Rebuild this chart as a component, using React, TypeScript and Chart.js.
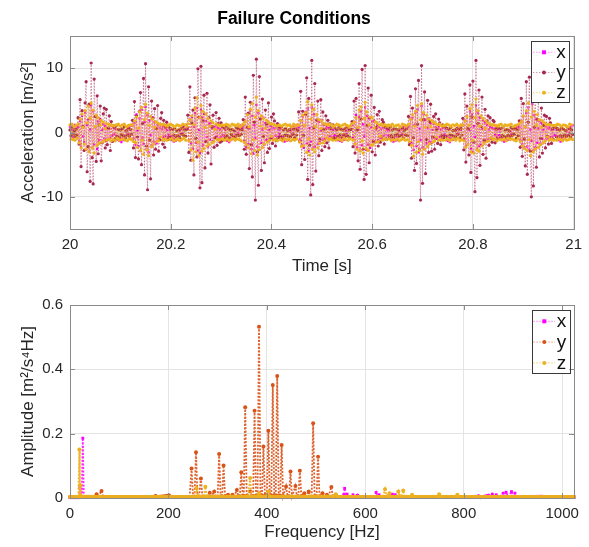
import React, { useEffect, useRef } from "react";
import { Chart, registerables } from "chart.js";

Chart.register(...registerables);

const FONT = '"Liberation Sans", Arial, Helvetica, sans-serif';
const TEXT = "#262626";
Chart.defaults.font.family = FONT;
Chart.defaults.color = TEXT;

// ---------- Time-domain data (acceleration, m/s^2), sampled from t = 20 s ----------
const START_TIME = 20;
const SAMPLE_RATE = 500;

const accX = [
  0.9, -0.6, 1.1, -0.8, 0.5, 1.2, -0.4, 0.7,
  0.9, -1.4, 1.8, -2.2, 2.6, -0.6, -1.5, 3.1, -2.7, 1.2, 2.0, -3.0, 0.5, 4.2, -2.4, 3.3, -1.9, 0.8, 2.5, -2.6, 1.7, -1.2, 2.1, -1.6, 0.4, 1.3, -0.9, 1.0, -1.3, 0.7, -1.1, 0.6, -0.8, 1.1, -0.5, 0.8,
  -0.3, 0.6, -0.5, -1.1, -0.7, -1.3, -0.9, -1.5, -0.6, -1.2, -0.8, 0.2, -0.4, 0.8, -0.2, 0.9, 0.4, 1.1,
  1.1, -0.9, 1.5, -1.9, 2.8, 0.3, -2.1, 2.2, -2.9, 3.5, -0.8, -1.8, 1.6, 4.0, -2.6, 2.7, -3.1, 1.9, -0.4, -2.0, 2.4, -1.4, 1.6, 0.6, -1.7, 1.2, -1.0, 0.8, -1.2, 0.5, 0.9, -0.7, 1.0, -0.6, 0.4, -0.9,
  -0.4, 0.5, -0.6, -1.2, -0.8, -1.4, -1.0, -1.3, -0.5, -1.1, -0.7, 0.3, -0.3, 0.7, -0.2, 1.0, 0.5, 1.2, 0.6,
  0.7, -1.2, 2.0, -1.7, 2.4, -2.5, 0.9, 3.0, -1.6, 3.8, -2.8, 0.4, -3.2, 3.6, 2.3, -2.0, 2.9, -1.5, 1.8, -0.7, -2.2, 1.4, -1.1, 1.5, 0.6, -1.3, 0.9, -0.8, 1.1, -0.6, 0.7, -1.0, 0.5, -0.7, 0.9, -0.4,
  -0.5, 0.4, -0.7, -1.3, -0.9, -1.5, -0.8, -1.2, -0.4, -1.0, -0.6, 0.2, -0.4, 0.6, -0.1, 0.9, 0.4, 1.1, 0.7,
  1.0, -1.3, 1.7, -2.3, 2.9, -1.8, 0.6, 3.4, -2.6, 2.6, -3.3, 1.1, -0.9, 4.3, -2.2, 3.0, -2.7, 2.1, -1.6, 0.5, 2.3, -1.9, 1.5, -1.2, 1.3, -1.4, 0.4, 1.0, -0.7, 0.8, -1.0, 0.6, -0.5, 0.9, -0.8, 0.5,
  -0.3, 0.6, -0.6, -1.2, -0.7, -1.4, -1.0, -1.3, -0.5, -1.2, -0.6, 0.3, -0.3, 0.8, -0.2, 1.0, 0.5, 1.2, 0.6,
  0.8, -1.1, 1.9, -2.0, 2.5, -2.4, 1.0, 3.2, -1.7, 3.7, -2.9, 0.7, -1.4, 3.9, -2.5, 2.8, -2.2, 0.9, 2.0, -1.8, 1.6, -1.5, 0.3, 1.9, -1.1, 1.2, -1.0, 0.6, 0.9, -0.9, 0.7, -0.6, 1.0, -0.8, 0.4, -0.6,
  -0.4, 0.5, -0.6, -1.2, -0.8, -1.3, -0.9, -1.4, -0.5, -1.1, -0.7, 0.3, -0.2, 0.7, 0.9, 0.4, 1.1,
  1.2, -0.8, 1.6, -1.8, 2.7, -2.3, 0.5, 2.4, -2.8, 3.3, -2.0, 1.3, -0.6, 3.9, -2.7, 2.6, -1.9, 2.2, -2.4, 0.8, 1.7, -1.3, 1.8, -1.5, 0.5, 1.1, -1.2, 1.0, -0.8, 0.6, -0.9, 0.8, -0.5, 0.7, -1.0, 0.4,
  -0.5, 0.4, -0.7, -1.1, -0.9, -1.4, -1.0, -1.3, -0.6, -1.2, -0.7, 0.2, -0.4, 0.6, -0.2, 0.9, 0.5, 1.1, 0.6, 1.0,
  0.9, -1.5, 2.1, -1.6, 2.3, -2.7, 1.2, 3.1, -2.1, 3.6, -3.1, 0.6, -1.2, 4.1, -2.3, 2.9, -2.6, 2.0, -1.7, 0.7, 2.2, -1.4, 1.4, -1.6, 0.4, 1.3, -0.9, 0.8, -1.0, 0.6, 0.9, -0.7, 0.5, -0.9, 0.7, -0.5,
  -0.3, 0.6, -0.6, -1.3, -0.8, -1.5, -0.9, -1.2, -0.5, -1.1, -0.7, 0.3, -0.3, 0.8, -0.2, 1.0, 0.4, 1.2,
  1.1, -1.0, 1.8, -2.1, 2.6, -1.9, 0.4, 3.3, -2.5, 2.8, -3.0, 1.0, -0.7, 4.2, -2.6, 3.1, -2.1, 2.3, -1.9, 0.6, 1.9, -1.6, 1.6, -1.3, 1.2, -1.1, 0.5, 0.9, -0.8, 0.7, -1.0, 0.6, -0.4, 0.8, -0.7, 0.5,
  -0.4, 0.5, -0.7, -1.2, -0.8, -1.4, -1.0, -1.3, -0.6, -1.1, -0.6, 0.2, -0.3, 0.7, -0.2, 0.9, 0.5, 1.1, 0.7, 1.0,
  0.8, -1.2, 1.7, -1.9, 2.5, -2.4, 0.9, 3.0, -2.2, 3.9, -2.7, 0.5, -1.3, 4.4, -2.8, 2.7, -2.3, 2.1, -1.6, 0.6, 1.8, -1.7, 1.5, -1.0, 0.4, 1.4, -1.2, 0.9, -0.9, 0.6, 0.8, -0.7, 0.5, -0.8, 0.6, -0.4,
  -0.5, 0.4, -0.6, -1.2, -0.9, -1.4, -0.8, -1.3, -0.5, -1.0, -0.7, 0.3, -0.4, 0.6, -0.1, 0.9, 0.4, 1.1,
];

const accY = [
  0.4, -0.5, 0.7, -0.3, 0.2, -0.6, 0.5, -0.4,
  2.3, -1.8, 5.1, -5.3, 3.4, 0.9, -2.8, 4.6, 7.9, -6.1, -2.2, 4.4, -7.6, 10.8, -3.9, -8.0, 8.3, 2.5, -4.5, 5.7, -3.3, 1.2, 4.1, -4.4, -1.6, 2.9, 3.8, -2.4, 3.6, -1.9, 0.7, 2.6, -2.8, 1.7, -1.4, 1.1,
  0.8, -0.9, 1.1, -0.6, 0.5, -0.7, 0.4, -0.3, 0.6, -0.5, 0.9, -0.8, 0.3, -0.4, 0.7, -0.6, 0.5, -0.3,
  1.9, -2.4, 4.8, -3.9, 2.6, -0.7, -4.1, 3.3, 6.2, -5.0, 1.4, 8.4, -6.6, 10.7, -2.1, -8.9, 7.1, -1.2, -7.2, 4.9, 2.2, -3.5, 3.7, -2.6, 0.6, 4.2, -2.9, -1.1, 2.2, 3.1, -1.8, 1.9, -2.3, 0.8, 1.6, -1.1,
  0.9, -0.7, 0.6, -1.0, 0.5, -0.4, 0.7, -0.6, 0.3, -0.5, 0.4, -0.8, 0.6, -0.3, 0.8, -0.5, 0.4, -0.6, 0.5,
  2.7, -3.1, 7.1, -4.3, 1.5, 3.5, -6.6, 5.4, -0.9, -3.8, 9.9, 2.4, -8.6, 10.3, -7.8, 1.8, 5.8, -5.5, -1.4, 6.1, -3.2, 2.3, 4.3, -4.9, 0.9, 2.7, -2.3, -0.8, 3.1, -2.0, 1.4, 2.2, -1.5, 1.5, -1.3, 0.9,
  0.7, -0.8, 1.0, -0.5, 0.6, -0.9, 0.4, -0.3, 0.5, -0.6, 0.3, -0.7, 0.8, -0.4, 0.6, -0.5, 0.7, -0.3, 0.4,
  2.0, -2.6, 5.5, -3.4, 0.8, 3.0, -5.6, 4.7, -1.9, -6.9, 8.9, 1.6, -10.5, 11.4, -3.0, -8.2, 8.7, 2.1, -5.9, 5.2, -0.6, -4.7, 3.5, 1.3, -3.1, 4.6, -2.5, -0.9, 2.4, -1.7, 2.9, 1.8, -2.1, -1.2, 1.4, -0.8,
  0.8, -0.6, 0.9, -1.0, 0.4, -0.5, 0.6, -0.4, 0.3, -0.6, 0.5, -0.7, 0.9, -0.3, 0.5, -0.8, 0.6, -0.4, 0.3,
  3.2, -1.4, 6.4, -5.0, 3.3, -0.5, -4.2, 2.8, 8.5, -7.3, 5.3, -2.0, -9.7, 11.2, -8.1, 0.7, 7.6, -6.0, 1.9, 4.9, -3.6, -1.0, 5.1, -2.8, 3.2, 0.5, -2.2, 2.6, -1.6, 1.9, -2.4, 1.4, 0.6, -1.0, 1.2, -0.9,
  0.7, -0.9, 0.5, -0.6, 0.8, -0.4, 0.5, -0.7, 0.4, -0.3, 0.6, -0.5, 0.9, -0.6, 0.4, -0.8, 0.5,
  1.7, -2.2, 4.9, -3.2, 5.3, 0.4, -4.4, 7.6, -5.7, 2.1, 9.8, -2.6, -7.3, 10.4, -6.5, 1.1, 6.9, -4.7, 2.3, 5.8, -3.0, -1.4, 3.9, -3.5, 0.8, 2.8, -2.1, 3.3, -1.5, -0.6, 2.0, 1.6, -1.8, 0.9, -1.1, 0.7,
  0.6, -0.8, 0.9, -0.5, 0.4, -0.7, 0.6, -0.4, 0.5, -0.3, 0.4, -0.6, 0.8, -0.5, 0.7, -0.9, 0.3, -0.4, 0.6, -0.5,
  2.5, -1.9, 5.6, -4.0, 3.8, -0.8, -5.9, 6.8, -4.8, 1.3, 8.1, -2.7, -10.5, 10.4, -7.9, 2.0, 6.3, -6.4, -1.1, 5.0, -3.1, 1.7, 4.4, -2.9, -0.7, 2.5, -2.6, 2.9, 0.4, -1.7, 2.1, 1.5, -1.9, -0.5, 1.2, -0.8,
  0.9, -0.6, 0.7, -0.9, 0.5, -0.4, 0.8, -0.5, 0.3, -0.6, 0.4, -0.7, 0.6, -0.3, 0.5, -0.8, 0.7, -0.4,
  2.2, -2.7, 6.0, -4.6, 4.1, 0.6, -3.5, 7.4, -6.2, 2.4, 8.0, -1.5, -9.2, 11.2, -7.0, 1.4, 6.6, -5.1, 0.9, 5.5, -3.4, -1.2, 3.6, -4.0, 1.8, 2.6, -2.0, 2.3, -0.9, -1.5, 1.9, 1.7, -1.6, 0.5, -1.0, 0.8,
  0.7, -0.8, 0.6, -0.5, 0.9, -0.6, 0.4, -0.7, 0.5, -0.4, 0.3, -0.6, 0.8, -0.5, 0.6, -0.3, 0.7, -0.9, 0.4, -0.5,
  1.8, -2.3, 5.3, -3.7, 4.5, -1.0, -5.2, 7.9, -6.5, 1.6, 8.6, -2.9, -10.0, 11.2, -8.3, 0.8, 6.8, -5.4, 2.0, 5.4, -3.8, -0.9, 3.8, -3.2, 1.1, 2.7, -2.4, 2.5, -0.6, -1.8, 2.2, 1.5, -1.7, 0.6, -1.1, 0.9,
  0.8, -0.7, 0.6, -0.9, 0.4, -0.5, 0.7, -0.6, 0.5, -0.4, 0.3, -0.6, 0.8, -0.5, 0.6, -0.7, 0.4, -0.3,
];

const accZ = [
  1.2, -1.0, 1.3, -1.1, 0.9, -1.2, 1.1, -0.9,
  1.3, -1.6, 2.1, -2.4, 2.9, 0.8, -1.8, 3.4, -2.6, 1.5, 4.1, -3.0, 2.2, 4.6, -2.4, 3.5, -3.2, 0.9, 2.7, -2.0, 2.3, -1.7, 1.2, 1.9, -1.5, 1.6, -1.3, 0.6, 1.4, -1.2, 1.3, -1.0, 1.2, -1.3, 1.1, -1.1,
  1.1, -1.3, 1.2, -0.9, 1.3, -1.2, 1.0, -1.1, 1.2, -1.0, 1.3, -1.2, 0.9, -1.3, 1.1, -1.0, 1.2, -1.1,
  1.2, -1.4, 1.8, -1.6, 2.4, -2.3, 0.7, 3.2, -2.8, 3.9, -1.2, -3.4, 2.0, 4.4, -2.7, 3.0, -3.6, 1.1, 2.5, -2.2, 2.1, -1.8, 0.8, 1.7, -1.4, 1.5, -1.3, 1.3, -0.7, 1.2, -1.2, 1.3, -1.0, 1.1, -1.2, 1.0,
  1.2, -1.1, 1.3, -1.0, 1.1, -1.3, 0.9, -1.2, 1.2, -1.0, 1.1, -1.3, 1.0, -1.1, 1.3, -0.9, 1.2, -1.2, 1.0,
  1.4, -1.3, 2.0, -2.7, 2.6, -4.3, 1.2, 3.8, -3.0, 5.4, -1.5, -3.6, 2.3, 4.2, -2.9, 3.3, -2.5, 0.8, 2.9, -2.1, 2.2, -1.9, 1.0, 1.8, -1.6, 1.5, -1.4, 0.5, 1.3, -1.1, 1.2, -1.2, 1.1, -1.0, 1.2, -1.1,
  1.1, -1.2, 1.3, -1.0, 1.2, -1.3, 1.0, -1.1, 1.3, -0.9, 1.2, -1.2, 1.1, -1.0, 1.3, -1.1, 0.9, -1.3, 1.2,
  1.3, -1.5, 1.7, -1.9, 2.8, -2.4, 0.9, 3.6, -3.3, 4.5, -1.1, -2.8, 2.4, 5.5, -3.5, 3.4, -2.7, 1.0, 2.6, -2.3, 2.2, -1.8, 0.7, 1.9, -1.5, 1.6, -1.2, 1.4, -0.6, 1.3, -1.2, 1.2, -1.1, 1.0, -1.3, 1.1,
  1.2, -1.1, 1.0, -1.3, 1.2, -1.0, 1.3, -1.2, 1.1, -1.0, 1.2, -1.3, 0.9, -1.1, 1.3, -1.2, 1.0, -1.0, 1.2,
  1.2, -1.5, 1.9, -2.2, 2.7, -2.0, 1.1, 3.1, -3.1, 4.8, -1.0, -3.5, 2.1, 4.3, -2.6, 3.6, -3.0, 0.9, 2.8, -2.4, 2.0, -1.7, 0.6, 1.8, -1.6, 1.4, -1.3, 1.3, -0.8, 1.2, -1.1, 1.3, -1.0, 1.1, -1.2, 1.0,
  1.1, -1.2, 1.3, -1.0, 1.2, -1.1, 1.0, -1.3, 1.2, -0.9, 1.3, -1.1, 1.1, -1.2, 0.9, -1.0, 1.2,
  1.4, -1.2, 1.6, -1.8, 2.3, -2.6, 0.8, 3.5, -2.9, 4.0, -1.3, -3.2, 2.2, 4.7, -2.5, 3.2, -2.8, 1.2, 2.4, -2.0, 2.3, -1.9, 0.7, 1.7, -1.5, 1.5, -1.4, 1.2, -0.6, 1.3, -1.2, 1.1, -1.0, 1.2, -1.1, 1.0,
  1.2, -1.0, 1.1, -1.3, 1.3, -1.1, 1.0, -1.2, 1.1, -1.0, 1.2, -1.3, 0.9, -1.1, 1.3, -1.0, 1.2, -1.2, 1.0, -1.1,
  1.3, -1.4, 2.1, -2.0, 2.8, -3.7, 1.0, 3.3, -3.1, 4.2, -1.4, -2.8, 2.0, 4.5, -3.4, 3.1, -2.6, 0.8, 2.7, -2.2, 2.1, -1.8, 0.9, 1.9, -1.5, 1.6, -1.3, 1.4, -0.7, 1.2, -1.2, 1.3, -1.1, 1.0, -1.2, 1.1,
  1.1, -1.2, 1.3, -1.0, 1.2, -1.3, 1.0, -1.1, 1.2, -1.0, 1.1, -1.2, 1.3, -0.9, 1.0, -1.3, 1.2, -1.1,
  1.2, -1.3, 1.8, -2.3, 2.5, -1.9, 1.1, 3.7, -3.0, 4.3, -1.2, -3.2, 2.3, 5.2, -2.7, 3.4, -2.9, 1.0, 2.6, -2.1, 2.2, -1.7, 0.6, 1.8, -1.4, 1.5, -1.3, 1.3, -0.8, 1.2, -1.1, 1.2, -1.0, 1.1, -1.3, 1.0,
  1.2, -1.1, 1.3, -1.2, 1.0, -1.0, 1.2, -1.3, 1.1, -0.9, 1.2, -1.1, 1.3, -1.0, 0.9, -1.2, 1.1, -1.3, 1.2, -1.0,
  1.4, -1.4, 1.7, -2.1, 2.6, -2.5, 0.9, 3.4, -2.8, 4.6, -1.1, -3.6, 2.4, 5.6, -3.0, 3.3, -2.6, 1.1, 2.8, -2.3, 2.0, -1.9, 0.8, 1.8, -1.6, 1.5, -1.3, 1.2, -0.7, 1.3, -1.2, 1.2, -1.0, 1.1, -1.2, 1.1,
  1.1, -1.2, 1.3, -1.0, 1.2, -1.1, 1.0, -1.3, 1.2, -1.0, 1.1, -1.2, 0.9, -1.1, 1.3, -1.0, 1.2, -1.1,
];

const timeTicks = [20, 20.2, 20.4, 20.6, 20.8, 21];
const accTicks = [-10, 0, 10];

// ---------- Spectrum data: [frequency Hz, amplitude] ----------
const specX: [number, number][] = [
  [0, 0.002], [18, 0.002], [20, 0.035], [22, 0.003], [24, 0.004], [26, 0.186], [28, 0.003],
  [60, 0.002], [200, 0.002], [400, 0.002], [552, 0.002], [556, 0.010], [558, 0.030], [560, 0.006],
  [563, 0.012], [566, 0.003], [575, 0.010], [578, 0.002], [584, 0.008], [588, 0.002], [618, 0.002],
  [622, 0.017], [625, 0.004], [628, 0.010], [632, 0.002], [655, 0.012], [658, 0.003], [661, 0.010],
  [665, 0.002], [760, 0.002], [826, 0.002], [830, 0.006], [834, 0.002], [850, 0.008], [854, 0.003],
  [858, 0.012], [862, 0.004], [866, 0.010], [872, 0.003], [880, 0.015], [883, 0.005], [886, 0.018],
  [890, 0.004], [897, 0.020], [900, 0.005], [904, 0.015], [908, 0.002], [960, 0.005], [964, 0.002],
  [1024, 0.002],
];

const specY: [number, number][] = [
  [0, 0.003], [50, 0.003], [54, 0.012], [57, 0.003], [64, 0.022], [67, 0.004], [170, 0.003],
  [174, 0.006], [177, 0.003], [201, 0.008], [204, 0.003], [243, 0.003], [247, 0.092], [250, 0.004],
  [253, 0.004], [256, 0.142], [259, 0.004], [262, 0.004], [266, 0.061], [269, 0.004], [281, 0.004],
  [284, 0.016], [287, 0.004], [293, 0.020], [296, 0.004], [300, 0.004], [303, 0.137], [306, 0.005],
  [309, 0.005], [312, 0.101], [315, 0.005], [321, 0.010], [324, 0.004], [330, 0.010], [333, 0.004],
  [339, 0.025], [342, 0.005], [345, 0.005], [348, 0.080], [351, 0.006], [353, 0.006], [356, 0.282],
  [359, 0.006], [366, 0.020], [370, 0.006], [372, 0.006], [375, 0.271], [378, 0.007], [381, 0.007],
  [384, 0.532], [387, 0.008], [390, 0.008], [393, 0.160], [396, 0.008], [400, 0.008], [403, 0.209],
  [406, 0.008], [409, 0.008], [412, 0.351], [415, 0.008], [418, 0.008], [421, 0.379], [424, 0.008],
  [427, 0.007], [430, 0.165], [433, 0.006], [439, 0.036], [442, 0.005], [445, 0.005], [448, 0.082],
  [451, 0.005], [458, 0.037], [461, 0.005], [464, 0.005], [467, 0.085], [470, 0.005], [476, 0.015],
  [479, 0.004], [485, 0.020], [488, 0.004], [491, 0.004], [494, 0.232], [497, 0.005], [501, 0.005],
  [504, 0.128], [507, 0.004], [513, 0.015], [516, 0.004], [522, 0.010], [525, 0.003], [531, 0.034],
  [534, 0.003], [540, 0.010], [543, 0.003], [700, 0.003], [1024, 0.003],
];

const specZ: [number, number][] = [
  [0, 0.004], [17, 0.004], [19, 0.151], [20, 0.006], [21, 0.040], [23, 0.005], [60, 0.004],
  [253, 0.004], [257, 0.030], [260, 0.005], [272, 0.005], [275, 0.035], [278, 0.005], [362, 0.005],
  [366, 0.062], [369, 0.005], [381, 0.005], [384, 0.015], [387, 0.005], [400, 0.005], [403, 0.020],
  [406, 0.005], [536, 0.005], [540, 0.012], [543, 0.004], [636, 0.004], [640, 0.027], [643, 0.005],
  [646, 0.005], [649, 0.015], [652, 0.004], [664, 0.004], [667, 0.020], [670, 0.005], [674, 0.005],
  [677, 0.023], [680, 0.004], [692, 0.004], [695, 0.010], [698, 0.004], [747, 0.004], [750, 0.012],
  [753, 0.004], [784, 0.004], [787, 0.010], [790, 0.004], [1024, 0.004],
];

const freqTicks = [0, 200, 400, 600, 800, 1000];
const ampTicks = [0, 0.2, 0.4, 0.6];

// ---------- Styling ----------
const MAGENTA = "#ff00ff";
const MAROON = "#a8284f";
const RED_ORANGE = "#d95319";
const GOLD = "#edb120";
const GRID = "#e4e4e4";
const FRAME = "#8a8a8a";

type LegendEntry = { label: string; line: string; marker: string; style: "rect" | "circle" };

function legendPlugin(entries: LegendEntry[], rowGap: number) {
  return {
    id: "matlabLegend",
    afterDraw(chart: any) {
      const { ctx, chartArea: a } = chart;
      const w = 37.6;
      const h = rowGap * entries.length + 0.5;
      const left = a.right - 42.3;
      const top = a.top + 5;
      ctx.save();
      ctx.fillStyle = "#ffffff";
      ctx.fillRect(left, top, w, h);
      ctx.strokeStyle = "#3a3a3a";
      ctx.lineWidth = 1;
      ctx.strokeRect(Math.round(left) + 0.5, Math.round(top) + 0.5, Math.round(w), Math.round(h));
      entries.forEach((e, i) => {
        const cy = top + 11.3 + i * rowGap;
        ctx.strokeStyle = e.line;
        ctx.lineWidth = 1;
        ctx.setLineDash([1.5, 1.5]);
        ctx.beginPath();
        ctx.moveTo(left + 1.6, cy);
        ctx.lineTo(left + 23.3, cy);
        ctx.stroke();
        ctx.setLineDash([]);
        ctx.fillStyle = e.marker;
        if (e.style === "rect") {
          ctx.fillRect(left + 12.6 - 2, cy - 2, 4, 4);
        } else {
          ctx.beginPath();
          ctx.arc(left + 12.6, cy, 2, 0, Math.PI * 2);
          ctx.fill();
        }
        ctx.fillStyle = "#111111";
        ctx.font = `19px ${FONT}`;
        ctx.textAlign = "left";
        ctx.textBaseline = "middle";
        ctx.fillText(e.label, left + 25, cy + 0.5);
      });
      ctx.restore();
    },
  };
}

function framePlugin(xTicks: number[], yTicks: number[]) {
  return {
    id: "matlabFrame",
    afterDatasetsDraw(chart: any) {
      const { ctx, chartArea: a, scales } = chart;
      ctx.save();
      ctx.strokeStyle = FRAME;
      ctx.lineWidth = 1;
      ctx.beginPath();
      for (const v of xTicks) {
        const px = Math.round(scales.x.getPixelForValue(v)) + 0.5;
        ctx.moveTo(px, a.bottom);
        ctx.lineTo(px, a.bottom - 5);
        ctx.moveTo(px, a.top);
        ctx.lineTo(px, a.top + 5);
      }
      for (const v of yTicks) {
        const py = Math.round(scales.y.getPixelForValue(v)) + 0.5;
        ctx.moveTo(a.left, py);
        ctx.lineTo(a.left + 5, py);
        ctx.moveTo(a.right, py);
        ctx.lineTo(a.right - 5, py);
      }
      ctx.stroke();
      ctx.strokeRect(
        Math.round(a.left) + 0.5,
        Math.round(a.top) + 0.5,
        Math.round(a.right - a.left),
        Math.round(a.bottom - a.top)
      );
      ctx.restore();
    },
  };
}

function axis(min: number, max: number, ticks: number[], title: string, fit: (s: any) => void) {
  return {
    type: "linear" as const,
    min,
    max,
    afterBuildTicks: (s: any) => {
      s.ticks = ticks.map((v) => ({ value: v }));
    },
    afterFit: fit,
    ticks: {
      autoSkip: false,
      maxRotation: 0,
      padding: 7,
      color: TEXT,
      font: { family: FONT, size: 15 },
      callback: (v: any) => String(v),
    },
    grid: { color: GRID, lineWidth: 1, drawTicks: false },
    border: { display: false },
    title: {
      display: true,
      text: title,
      color: TEXT,
      font: { family: FONT, size: 17 },
      padding: { top: 4, bottom: 4 },
    },
  };
}

const timeSeries = (vals: number[]) =>
  vals.map((v, i) => ({ x: START_TIME + i / SAMPLE_RATE, y: v }));
const specSeries = (pairs: [number, number][]) => pairs.map(([f, a]) => ({ x: f, y: a }));

const BASE_LEVEL = 0.009;
const isBase = (c: any) => c.p0.parsed.y < BASE_LEVEL && c.p1.parsed.y < BASE_LEVEL;
const specSegment = {
  borderDash: (c: any) => (isBase(c) ? [] : [2, 1.5]),
  borderWidth: (c: any) => (isBase(c) ? 3.5 : 1.8),
};

function TimeChart() {
  const ref = useRef<HTMLCanvasElement>(null);
  useEffect(() => {
    const mk = (label: string, vals: number[], color: string, line: string, style: string, order: number) => ({
      label,
      data: timeSeries(vals),
      borderColor: line,
      borderWidth: 1,
      borderDash: [1.5, 1.5],
      pointStyle: style,
      pointRadius: 1.6,
      pointBackgroundColor: color,
      pointBorderColor: color,
      pointBorderWidth: 0,
      tension: 0,
      order,
      clip: 3,
    });
    const chart = new Chart(ref.current!, {
      type: "line",
      data: {
        datasets: [
          mk("x", accX, MAGENTA, "rgba(255,0,255,0.55)", "rect", 3),
          mk("y", accY, MAROON, "rgba(168,40,79,0.5)", "circle", 2),
          mk("z", accZ, GOLD, "rgba(237,177,32,0.7)", "circle", 1),
        ] as any,
      },
      options: {
        animation: false,
        responsive: false,
        events: [],
        layout: { padding: { left: 14, right: 15, top: 0, bottom: 0 } },
        plugins: {
          legend: { display: false },
          tooltip: { enabled: false },
          title: {
            display: true,
            text: "Failure Conditions",
            color: "#000000",
            font: { family: FONT, size: 17.5, weight: "bold" },
            padding: { top: 9, bottom: 6 },
          },
        },
        scales: {
          x: axis(20, 21, timeTicks, "Time [s]", (s: any) => { s.height = 52; }),
          y: axis(-15, 15, accTicks, "Acceleration [m/s²]", (s: any) => { s.width = 56; }),
        } as any,
      },
      plugins: [
        framePlugin(timeTicks, accTicks),
        legendPlugin(
          [
            { label: "x", line: "rgba(255,0,255,0.45)", marker: MAGENTA, style: "rect" },
            { label: "y", line: "rgba(168,40,79,0.45)", marker: MAROON, style: "circle" },
            { label: "z", line: "rgba(237,177,32,0.55)", marker: GOLD, style: "circle" },
          ],
          20.2
        ),
      ],
    });
    return () => chart.destroy();
  }, []);
  return (
    <canvas
      ref={ref}
      width={589}
      height={281}
      style={{ position: "absolute", left: 0, top: 0, width: 589, height: 281 }}
    />
  );
}

function SpectrumChart() {
  const ref = useRef<HTMLCanvasElement>(null);
  useEffect(() => {
    const mk = (label: string, pairs: [number, number][], color: string, line: string, style: string, order: number) => ({
      label,
      data: specSeries(pairs),
      borderColor: line,
      borderWidth: 1.8,
      segment: specSegment,
      pointStyle: style,
      pointRadius: 2,
      pointBackgroundColor: color,
      pointBorderColor: color,
      pointBorderWidth: 0,
      tension: 0,
      order,
      clip: 4,
    });
    const chart = new Chart(ref.current!, {
      type: "line",
      data: {
        datasets: [
          mk("x", specX, MAGENTA, "rgba(255,0,255,0.85)", "rect", 3),
          mk("y", specY, RED_ORANGE, "rgba(217,83,25,0.9)", "circle", 2),
          mk("z", specZ, GOLD, "rgba(237,177,32,0.95)", "circle", 1),
        ] as any,
      },
      options: {
        animation: false,
        responsive: false,
        events: [],
        layout: { padding: { left: 14, right: 15, top: 24, bottom: 0 } },
        plugins: {
          legend: { display: false },
          tooltip: { enabled: false },
        },
        scales: {
          x: axis(0, 1024, freqTicks, "Frequency [Hz]", (s: any) => { s.height = 49; }),
          y: axis(0, 0.6, ampTicks, "Amplitude [m²/s⁴Hz]", (s: any) => { s.width = 56; }),
        } as any,
      },
      plugins: [
        framePlugin(freqTicks, ampTicks),
        legendPlugin(
          [
            { label: "x", line: "rgba(255,0,255,0.55)", marker: MAGENTA, style: "rect" },
            { label: "y", line: "rgba(217,83,25,0.55)", marker: RED_ORANGE, style: "circle" },
            { label: "z", line: "rgba(237,177,32,0.6)", marker: GOLD, style: "circle" },
          ],
          20.8
        ),
      ],
    });
    return () => chart.destroy();
  }, []);
  return (
    <canvas
      ref={ref}
      width={589}
      height={266}
      style={{ position: "absolute", left: 0, top: 281, width: 589, height: 266 }}
    />
  );
}

export default function App() {
  return (
    <div
      style={{
        position: "absolute",
        left: 0,
        top: 0,
        width: 589,
        height: 547,
        background: "#ffffff",
        overflow: "hidden",
      }}
    >
      <TimeChart />
      <SpectrumChart />
    </div>
  );
}
